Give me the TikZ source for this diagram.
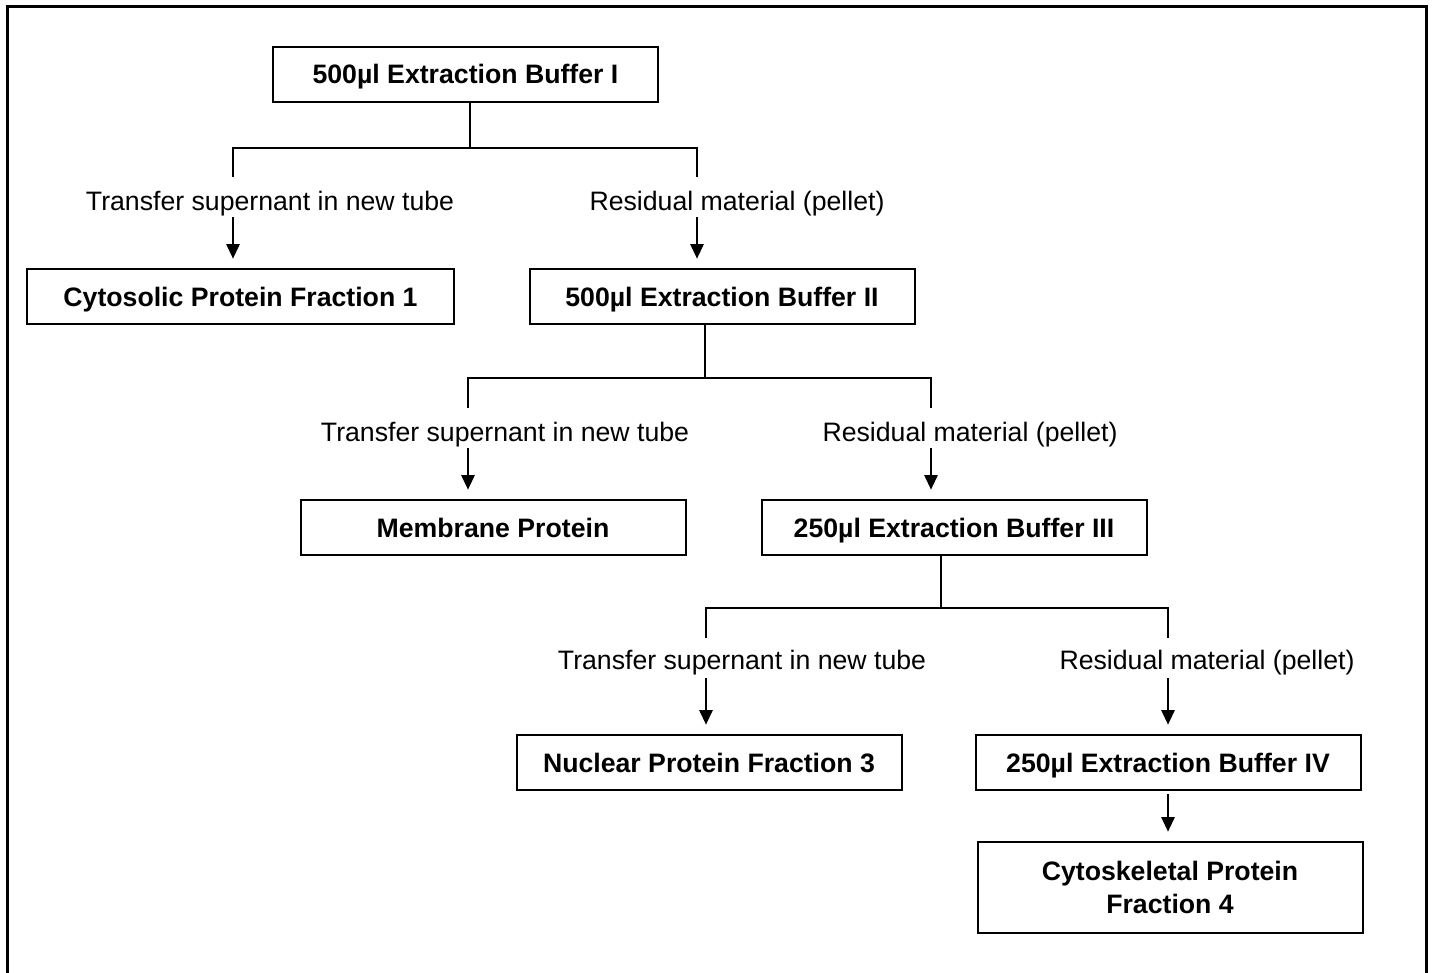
\documentclass[tikz,border=0pt]{standalone}
\usepackage{fontspec}
\setmainfont{Liberation Sans}
\usetikzlibrary{arrows.meta}
\begin{document}
\begin{tikzpicture}[x=0.75pt,y=-0.75pt,
 boxbase/.style={draw,line width=1.5pt,inner sep=0pt,minimum height=41.25pt,minimum width=288.75pt,align=center},
 box/.style={boxbase,font=\fontsize{20}{25}\selectfont\bfseries,text height=14.4pt,text depth=-0.6pt},
 twobox/.style={boxbase,font=\fontsize{20}{25}\selectfont\bfseries},
 lbl/.style={inner sep=0pt,font=\fontsize{20}{24}\selectfont,text height=14.4pt,text depth=0pt},
 conn/.style={line width=1.5pt},
 arr/.style={line width=1.5pt,-{Triangle[width=10pt,length=11pt]},shorten >=7pt},
 frame/.style={line width=2.25pt}]
\useasboundingbox (0,0) rectangle (1433,972);
\coordinate (fbl) at (7,985);
\coordinate (ftl) at (7,6);
\coordinate (ftr) at (1426,6);
\coordinate (fbr) at (1426,985);
\draw[frame] (fbl) -- (ftl) -- (ftr) -- (fbr);

% level 1
\node[box] (b1) at (465.5,74) {500µl Extraction Buffer I};
\coordinate (j1) at (470,148);
\coordinate (h1l) at (233,148);
\coordinate (h1r) at (697,148);
\coordinate (s1l) at (233,177);
\coordinate (s1r) at (697,177);
\draw[conn] (j1|-b1.south) -- (j1);
\draw[conn] (s1l) -- (h1l) -- (h1r) -- (s1r);
\node[lbl] (t1) at (270,201) {Transfer supernant in new tube};
\node[lbl] (r1) at (737,201) {Residual material (pellet)};
\node[box,minimum width=320.25pt] (c1) at (240.5,296.5) {Cytosolic Protein Fraction 1};
\node[box] (b2) at (722,296.5) {500µl Extraction Buffer II};
\coordinate (a1l) at (233,217);
\coordinate (a1r) at (697,217);
\draw[arr] (a1l) -- (a1l|-c1.north);
\draw[arr] (a1r) -- (a1r|-b2.north);

% level 2
\coordinate (j2) at (705,378);
\coordinate (h2l) at (468,378);
\coordinate (h2r) at (931,378);
\coordinate (s2l) at (468,408);
\coordinate (s2r) at (931,408);
\draw[conn] (j2|-b2.south) -- (j2);
\draw[conn] (s2l) -- (h2l) -- (h2r) -- (s2r);
\node[lbl] (t2) at (505,432) {Transfer supernant in new tube};
\node[lbl] (r2) at (970,432) {Residual material (pellet)};
\node[box] (m2) at (493,527.5) {Membrane Protein};
\node[box] (b3) at (954,527.5) {250µl Extraction Buffer III};
\coordinate (a2l) at (468,448);
\coordinate (a2r) at (931,448);
\draw[arr] (a2l) -- (a2l|-m2.north);
\draw[arr] (a2r) -- (a2r|-b3.north);

% level 3
\coordinate (j3) at (941,608);
\coordinate (h3l) at (706,608);
\coordinate (h3r) at (1168,608);
\coordinate (s3l) at (706,638);
\coordinate (s3r) at (1168,638);
\draw[conn] (j3|-b3.south) -- (j3);
\draw[conn] (s3l) -- (h3l) -- (h3r) -- (s3r);
\node[lbl] (t3) at (742,660) {Transfer supernant in new tube};
\node[lbl] (r3) at (1207,660) {Residual material (pellet)};
\node[box] (n3) at (709,762.5) {Nuclear Protein Fraction 3};
\node[box] (b4) at (1168,762.5) {250µl Extraction Buffer IV};
\coordinate (a3l) at (706,678);
\coordinate (a3r) at (1168,678);
\draw[arr] (a3l) -- (a3l|-n3.north);
\draw[arr] (a3r) -- (a3r|-b4.north);

% level 4
\node[twobox,minimum height=68.25pt] (k4) at (1170,887.5) {Cytoskeletal Protein\\Fraction 4};
\coordinate (a4) at (1168,794);
\draw[arr] (a4) -- (a4|-k4.north);
\end{tikzpicture}
\end{document}
